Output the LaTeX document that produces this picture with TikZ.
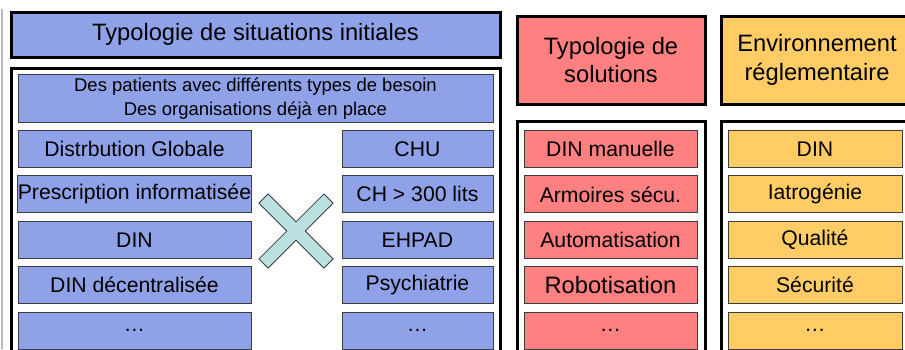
\documentclass[tikz,border=0pt]{standalone}
\usepackage{fontspec}
\setmainfont{Liberation Sans}
\usepackage{tikz}
\usetikzlibrary{positioning}
\usepackage{xcolor}
\definecolor{sitblue}{RGB}{143,162,232}
\definecolor{solred}{RGB}{255,128,128}
\definecolor{envorange}{RGB}{255,204,102}
\definecolor{crossteal}{RGB}{186,224,224}
\definecolor{itemborder}{RGB}{60,60,60}
\newcommand{\widthsit}{233pt}
\newcommand{\widthorg}{151pt}
\newcommand{\widthsol}{173pt}
\newcommand{\widthenv}{174pt}
\newcommand{\rowgap}{7.5pt}
\tikzset{
    common/.style={anchor=north west, draw, rectangle, inner sep=0pt, align=center},
    heading/.style={common, line width=3pt, font=\fontsize{23.7}{28.5}\selectfont},
    frame/.style={common, line width=3pt, fill=white, minimum height=300pt},
    item/.style={common, draw=itemborder, line width=0.9pt, minimum height=37pt,
        font=\fontsize{21.2}{25}\selectfont},
    big/.style={font=\fontsize{23.7}{28.5}\selectfont},
    sit/.style={item, fill=sitblue},
    sol/.style={item, fill=solred, minimum width=\widthsol},
    env/.style={item, fill=envorange, minimum width=\widthenv},
}

\begin{document}
\begin{tikzpicture}[x=1pt, y=-1pt]
    \useasboundingbox (0,0) rectangle (905,349);
    \draw[gray!55, line width=1.5pt] (2,9) -- (2,349);

    % situations initiales
    \node[heading, fill=sitblue, minimum width=489pt, minimum height=45.5pt] (sit-title) at (9.5,10.5) {Typologie de situations initiales};
    \node[frame, minimum width=489pt] (sit-frame) at (9.5,66.5) {};
    \node[item, fill=sitblue, minimum width=475pt, minimum height=48pt, font=\fontsize{18.5}{23.5}\selectfont] (sit-header) at (17.5,74)
        {Des patients avec différents types de besoin\\Des organisations déjà en place};

    \node[sit, minimum width=\widthsit] (sit-dg) at (17.5,130) {Distrbution Globale};
    \node[sit, minimum width=\widthsit, below=\rowgap of sit-dg] (sit-presc) {Prescription informatisée};
    \node[sit, minimum width=\widthsit, below=\rowgap of sit-presc] (sit-din) {DIN};
    \node[sit, minimum width=\widthsit, below=\rowgap of sit-din] (sit-dind) {DIN décentralisée};
    \node[sit, minimum width=\widthsit, below=\rowgap of sit-dind] (sit-more) {…};

    \node[sit, minimum width=\widthorg] (org-chu) at (341.5,130) {CHU};
    \node[sit, minimum width=\widthorg, below=\rowgap of org-chu] (org-ch) {CH > 300 lits};
    \node[sit, minimum width=\widthorg, below=\rowgap of org-ch] (org-ehpad) {EHPAD};
    \node[sit, minimum width=\widthorg, below=\rowgap of org-ehpad] (org-psy) {Psychiatrie};
    \node[sit, minimum width=\widthorg, below=\rowgap of org-psy] (org-more) {…};

    % croisement
    \begin{scope}[shift={(296,231)}, rotate=45]
        \draw[fill=crossteal, draw=itemborder, line width=0.8pt]
            (46,6.5) -- (6.5,6.5) -- (6.5,46) -- (-6.5,46) -- (-6.5,6.5) -- (-46,6.5)
            -- (-46,-6.5) -- (-6.5,-6.5) -- (-6.5,-46) -- (6.5,-46) -- (6.5,-6.5) -- (46,-6.5) -- cycle;
    \end{scope}

    % solutions
    \node[heading, fill=solred, minimum width=188pt, minimum height=88pt] (sol-title) at (515.5,14.5) {Typologie de\\solutions};
    \node[frame, minimum width=188pt] (sol-frame) at (515.5,119.5) {};
    \node[sol] (sol-man) at (523.5,130) {DIN manuelle};
    \node[sol, below=\rowgap of sol-man] (sol-arm) {Armoires sécu.};
    \node[sol, below=\rowgap of sol-arm] (sol-auto) {Automatisation};
    \node[sol, big, below=\rowgap of sol-auto] (sol-robot) {Robotisation};
    \node[sol, below=\rowgap of sol-robot] (sol-more) {…};

    % environnement
    \node[heading, fill=envorange, minimum width=192pt, minimum height=88pt] (env-title) at (719.5,14.5) {Environnement\\réglementaire};
    \node[frame, minimum width=192pt] (env-frame) at (719.5,119.5) {};
    \node[env] (env-din) at (727.5,130) {DIN};
    \node[env, below=\rowgap of env-din] (env-iat) {Iatrogénie};
    \node[env, below=\rowgap of env-iat] (env-qual) {Qualité};
    \node[env, below=\rowgap of env-qual] (env-secu) {Sécurité};
    \node[env, below=\rowgap of env-secu] (env-more) {…};
\end{tikzpicture}
\end{document}
